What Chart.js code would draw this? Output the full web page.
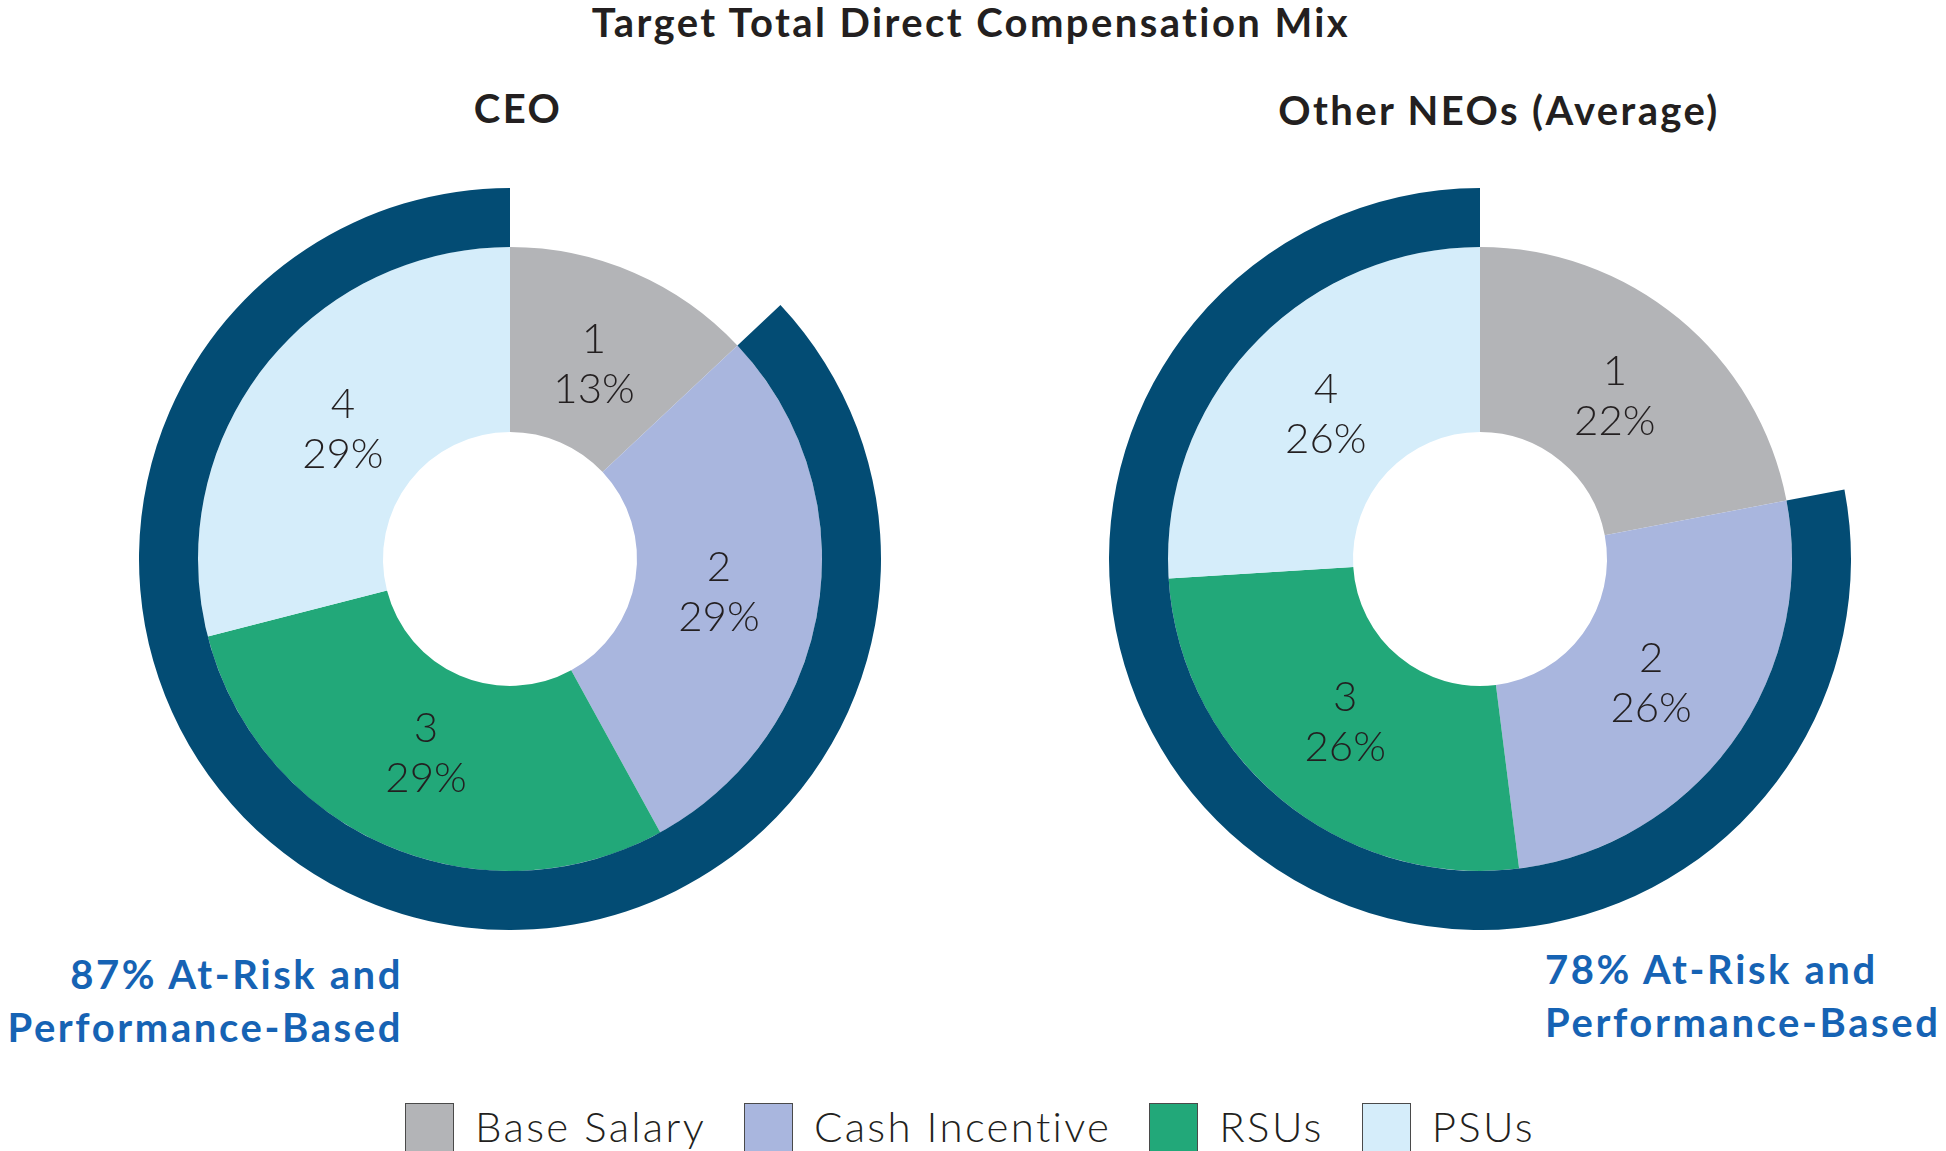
<!DOCTYPE html>
<html>
<head>
<meta charset="utf-8">
<title>Target Total Direct Compensation Mix</title>
<script src="https://cdn.jsdelivr.net/npm/chart.js"></script>
<style>
    body {
        margin: 0;
        width: 1946px;
        height: 1151px;
        position: relative;
        overflow: hidden;
        background: #fff;
        font-family: Lato, "Open Sans", sans-serif;
        color: #231f20;
    }
    .txt { position: absolute; white-space: nowrap; line-height: 1; }
    .head { font-size: 40px; font-weight: 700; letter-spacing: 2.4px; }
    .risk { font-size: 40px; font-weight: 700; color: #1663b4; line-height: 53px; letter-spacing: 2.6px; }
    canvas { position: absolute; }
    #legenda {
        position: absolute; left: 0; width: 1940px; top: 1103px;
        display: flex; justify-content: center; align-items: flex-start;
    }
    .item { display: flex; align-items: flex-start; margin: 0 19px; }
    .caixa { width: 47px; height: 47px; border: 1.5px solid #4a4a4a; margin-right: 21px; }
    .rotulo { font-size: 42px; font-weight: 300; line-height: 1; margin-top: 2px; letter-spacing: 2.3px; }
</style>
</head>
<body>

<div class="txt head" id="titulo" style="left:0; width:1942px; text-align:center; top:2px;"></div>
<div class="txt head" id="tituloCeo" style="left:317px; width:402px; text-align:center; top:88px;"></div>
<div class="txt head" id="tituloNeo" style="left:1198px; width:602px; text-align:center; top:90px;"></div>

<canvas id="graficoCeo" width="742" height="742" style="left:139px; top:188px;"></canvas>
<canvas id="graficoNeo" width="742" height="742" style="left:1109px; top:188px;"></canvas>

<div class="txt risk" id="riscoCeo" style="right:1543px; top:948px; text-align:right;"></div>
<div class="txt risk" id="riscoNeo" style="left:1545px; top:943px; text-align:left;"></div>

<div id="legenda"></div>

<script>
// ===============================
// DADOS
// ===============================

const tituloGeral = "Target Total Direct Compensation Mix";
const titulos = ["CEO", "Other NEOs (Average)"];
const categorias = ["Base Salary", "Cash Incentive", "RSUs", "PSUs"];
const mixCeo = [13, 29, 29, 29];
const mixNeo = [22, 26, 26, 26];
const emRiscoCeo = 87;
const emRiscoNeo = 78;

const cores = ["#b3b4b7", "#a9b6de", "#22a879", "#d5edfa"];
const corAnel = "#034c74";

// ===============================
// TEXTOS
// ===============================

document.getElementById("titulo").textContent = tituloGeral;
document.getElementById("tituloCeo").textContent = titulos[0];
document.getElementById("tituloNeo").textContent = titulos[1];
document.getElementById("riscoCeo").innerHTML = emRiscoCeo + "% At-Risk and<br>Performance-Based";
document.getElementById("riscoNeo").innerHTML = emRiscoNeo + "% At-Risk and<br>Performance-Based";

const legenda = document.getElementById("legenda");
categorias.forEach((nome, i) => {
    const item = document.createElement("div");
    item.className = "item";
    item.innerHTML = `<div class="caixa" style="background:${cores[i]}"></div><div class="rotulo">${nome}</div>`;
    legenda.appendChild(item);
});

// ===============================
// GRÁFICOS
// ===============================

// numero + percentual dentro de cada fatia
const rotulosFatias = {
    id: "rotulosFatias",
    afterDatasetsDraw(chart) {
        const ctx = chart.ctx;
        const meta = chart.getDatasetMeta(1);
        const valores = chart.data.datasets[1].data;
        ctx.save();
        ctx.font = "300 42px Lato, sans-serif";
        ctx.fillStyle = "#231f20";
        ctx.textAlign = "center";
        ctx.textBaseline = "middle";
        meta.data.forEach((arco, i) => {
            const p = arco.getProps(["x", "y", "startAngle", "endAngle", "innerRadius", "outerRadius"], true);
            const meio = (p.startAngle + p.endAngle) / 2;
            const r = (p.innerRadius + p.outerRadius) / 2 - 8;
            const x = p.x + Math.cos(meio) * r;
            const y = p.y + Math.sin(meio) * r;
            ctx.fillText(String(i + 1), x, y - 25);
            ctx.fillText(valores[i] + "%", x, y + 25);
        });
        ctx.restore();
    }
};

function graficoMix(id, mix, emRisco) {
    new Chart(document.getElementById(id), {
        type: "doughnut",
        data: {
            labels: categorias,
            datasets: [
                {
                    data: [100 - emRisco, emRisco],
                    backgroundColor: ["rgba(0,0,0,0)", corAnel],
                    borderWidth: 0,
                    weight: 59
                },
                {
                    data: mix,
                    backgroundColor: cores,
                    borderWidth: 0,
                    weight: 185
                }
            ]
        },
        options: {
            responsive: false,
            animation: false,
            events: [],
            cutout: 127,
            hoverOffset: 0,
            layout: { padding: 0 },
            plugins: {
                legend: { display: false },
                tooltip: { enabled: false }
            }
        },
        plugins: [rotulosFatias]
    });
}

graficoMix("graficoCeo", mixCeo, emRiscoCeo);
graficoMix("graficoNeo", mixNeo, emRiscoNeo);
</script>
</body>
</html>
